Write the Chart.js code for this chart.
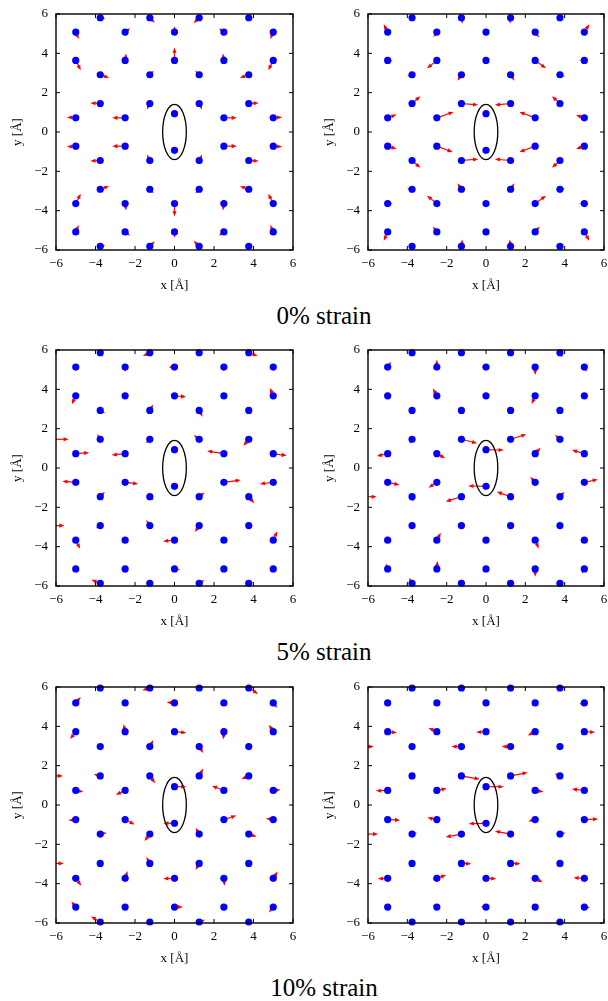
<!DOCTYPE html>
<html>
<head>
<meta charset="utf-8">
<script src="https://cdn.jsdelivr.net/npm/chart.js@4.4.0/dist/chart.umd.min.js"></script>
<style>
  body { margin: 0; background: #fff; width: 608px; height: 1001px; position: relative; overflow: hidden; }
  .panel { position: absolute; height: 300px; }
  .caption { position: absolute; left: 224px; width: 200px; height: 28px; line-height: 28px; text-align: center;
             font-family: 'Liberation Serif', serif; font-size: 25px; color: #000; }
</style>
</head>
<body>
<div class="panel" style="left:0;top:0;width:300px"><canvas id="p0L"></canvas></div>
<div class="panel" style="left:312px;top:0;width:296px"><canvas id="p0R"></canvas></div>
<div class="caption" style="top:302px">0% strain</div>
<div class="panel" style="left:0;top:336px;width:300px"><canvas id="p5L"></canvas></div>
<div class="panel" style="left:312px;top:336px;width:296px"><canvas id="p5R"></canvas></div>
<div class="caption" style="top:638px">5% strain</div>
<div class="panel" style="left:0;top:673px;width:300px"><canvas id="p10L"></canvas></div>
<div class="panel" style="left:312px;top:673px;width:296px"><canvas id="p10R"></canvas></div>
<div class="caption" style="top:974px">10% strain</div>

<script>
// atom x positions [Å], row by row from top; last 4 sit just outside the frame (only their arrows show)
var atomX = [
  -3.76, -1.25, 1.25, 3.76,
  -5, -2.5, 0, 2.5, 5,
  -5, -2.5, 0, 2.5, 5,
  -3.76, -1.25, 1.25, 3.76,
  -3.76, -1.25, 1.25, 3.76,
  -5, -2.5, 0, 2.5, 5,
  -5, -2.5, 0, 2.5, 5,
  -3.76, -1.25, 1.25, 3.76,
  -3.76, -1.25, 1.25, 3.76,
  -5, -2.5, 0, 2.5, 5,
  -5, -2.5, 0, 2.5, 5,
  -3.76, -1.25, 1.25, 3.76,
  -6.26, -6.26, -6.26, -6.26
];

// atom y positions for each strain
var atomY0 = [
  5.81, 5.81, 5.81, 5.81,
  5.08, 5.08, 5.08, 5.08, 5.08,
  3.64, 3.64, 3.64, 3.64, 3.64,
  2.91, 2.91, 2.91, 2.91,
  1.45, 1.45, 1.45, 1.45,
  0.72, 0.72, 0.93, 0.72, 0.72,
  -0.72, -0.72, -0.93, -0.72, -0.72,
  -1.45, -1.45, -1.45, -1.45,
  -2.91, -2.91, -2.91, -2.91,
  -3.64, -3.64, -3.64, -3.64, -3.64,
  -5.08, -5.08, -5.08, -5.08, -5.08,
  -5.81, -5.81, -5.81, -5.81,
  2.91, 1.45, -1.45, -2.91
];
var atomY5 = [
  5.86, 5.86, 5.86, 5.86,
  5.13, 5.13, 5.13, 5.13, 5.13,
  3.67, 3.67, 3.67, 3.67, 3.67,
  2.93, 2.93, 2.93, 2.93,
  1.46, 1.46, 1.46, 1.46,
  0.73, 0.73, 0.93, 0.73, 0.73,
  -0.73, -0.73, -0.93, -0.73, -0.73,
  -1.46, -1.46, -1.46, -1.46,
  -2.93, -2.93, -2.93, -2.93,
  -3.67, -3.67, -3.67, -3.67, -3.67,
  -5.13, -5.13, -5.13, -5.13, -5.13,
  -5.86, -5.86, -5.86, -5.86,
  2.93, 1.46, -1.46, -2.93
];
var atomY10 = [
  5.95, 5.95, 5.95, 5.95,
  5.19, 5.19, 5.19, 5.19, 5.19,
  3.73, 3.73, 3.73, 3.73, 3.73,
  2.97, 2.97, 2.97, 2.97,
  1.48, 1.48, 1.48, 1.48,
  0.74, 0.74, 0.93, 0.74, 0.74,
  -0.74, -0.74, -0.93, -0.74, -0.74,
  -1.48, -1.48, -1.48, -1.48,
  -2.97, -2.97, -2.97, -2.97,
  -3.73, -3.73, -3.73, -3.73, -3.73,
  -5.19, -5.19, -5.19, -5.19, -5.19,
  -5.95, -5.95, -5.95, -5.95,
  2.97, 1.48, -1.48, -2.97
];

// displacement arrows [dx, dy] per atom, one list per panel
var arrows0L = [
  [0.25,-0.05],[0.25,-0.25],[-0.28,-0.28],[0.15,-0.1],
  [0.15,-0.35],[0.25,0.2],[0,0.3],[-0.25,0.2],[-0.15,-0.35],
  [0.25,-0.5],[0.05,0.35],[0,0.65],[-0.05,0.35],[-0.25,-0.5],
  [0.45,-0.15],[0.2,0.2],[-0.2,0.2],[-0.45,-0.15],
  [-0.5,0.03],[-0.15,-0.3],[0.15,-0.3],[0.5,0.03],
  [-0.45,0.03],[-0.65,0],[0,0],[0.65,0],[0.45,0.03],
  [-0.45,-0.03],[-0.65,0],[0,0],[0.65,0],[0.45,-0.03],
  [-0.5,-0.03],[-0.15,0.3],[0.15,0.3],[0.5,-0.03],
  [0.45,0.15],[0.2,-0.2],[-0.2,-0.2],[-0.45,0.15],
  [0.25,0.5],[0.05,-0.35],[0,-0.65],[-0.05,-0.35],[-0.25,0.5],
  [0.15,0.35],[0.25,-0.2],[0,-0.3],[-0.25,-0.2],[-0.15,0.35],
  [0.25,0.05],[0.25,0.25],[-0.28,0.28],[0.15,0.1],
  [0,0],[0,0],[0,0],[0,0]
];
var arrows0R = [
  [0,0],[0.05,-0.3],[-0.03,-0.3],[0,0],
  [-0.2,0.4],[-0.17,-0.25],[0,0],[0.2,-0.27],[0.25,0.4],
  [0.25,0],[-0.5,-0.4],[0,0],[0.55,-0.4],[-0.25,0],
  [-0.25,-0.08],[-0.2,-0.3],[0.2,-0.3],[0.25,-0.08],
  [0.42,0.37],[0.85,-0.08],[-0.8,-0.08],[-0.4,0.37],
  [0.45,0.17],[0.85,0.3],[0,0],[-0.8,0.3],[-0.42,0.14],
  [0.45,-0.15],[0.8,-0.3],[0,0],[-0.8,-0.3],[-0.42,-0.14],
  [0.42,-0.37],[0.85,0.07],[-0.8,0.07],[-0.4,-0.37],
  [-0.25,0.03],[-0.2,0.3],[0.2,0.3],[0.25,0.03],
  [0.25,0],[-0.5,0.4],[0,0],[0.55,0.4],[-0.25,0],
  [-0.2,-0.45],[-0.2,0.27],[0,0],[0.22,0.28],[0.25,-0.45],
  [0,0],[0.05,0.35],[-0.05,0.35],[0,0],
  [0,0],[0,0],[0,0],[0,0]
];
var arrows5L = [
  [0.2,0.05],[-0.35,-0.17],[-0.2,0.15],[0.45,-0.17],
  [0,0],[0,-0.25],[-0.3,0],[0,0],[0,0],
  [-0.2,-0.43],[0,0],[0.58,-0.05],[0,0],[-0.17,0.4],
  [0.25,-0.15],[0.17,0.3],[0.17,-0.32],[0.15,0.1],
  [-0.15,0.27],[-0.2,-0.2],[-0.27,0.22],[-0.27,-0.33],
  [0.68,0.05],[-0.68,-0.07],[0,0],[-0.85,0.13],[0.68,-0.1],
  [-0.68,0.05],[0.66,-0.08],[0,0],[0.85,0.12],[-0.68,-0.08],
  [0.23,0.25],[0.2,-0.17],[0.27,0.22],[0.27,-0.33],
  [-0.22,-0.13],[-0.18,0.28],[-0.22,-0.33],[-0.15,0.15],
  [0.22,-0.43],[0,0],[-0.58,-0.05],[0,0],[0.2,0.45],
  [0,0],[0,-0.23],[0.28,-0.03],[0,0],[0,0],
  [-0.45,0.18],[0,0],[0.27,0.15],[-0.15,-0.1],
  [0,0],[0.9,0],[0,0],[0.68,0]
];
var arrows5R = [
  [0,0],[0,0],[0,0],[0.12,-0.23],
  [0.17,0.27],[0,0.38],[-0.23,0],[0,-0.4],[0.12,-0.23],
  [0,0.2],[-0.2,0.37],[0,0],[-0.18,-0.42],[0,0],
  [0,0],[0,0],[0,0],[0,0],
  [-0.12,-0.23],[0.8,-0.2],[0.8,0.25],[-0.25,0.23],
  [-0.55,-0.12],[0.42,-0.23],[0.9,-0.02],[0.28,0.3],[-0.63,0.18],
  [0.6,-0.13],[-0.42,-0.27],[-0.9,0.02],[-0.25,0.28],[0.68,0.15],
  [0.05,-0.25],[-0.8,-0.24],[-0.7,0.25],[0.23,0.25],
  [0,0],[0,0],[0,0],[0,0],
  [0,0.2],[0.2,0.38],[0,0],[0.18,-0.42],[0,0],
  [-0.1,0.27],[0.03,0.4],[0.2,0],[0,-0.4],[-0.12,-0.23],
  [-0.15,0.28],[0,0],[0,0],[0,0],
  [0,0],[0,0],[0.7,0],[0,0]
];
var arrows10L = [
  [0,0],[-0.38,-0.12],[0,0],[0.47,-0.3],
  [0.25,0.3],[0,0],[-0.4,0.03],[0,0],[0.2,-0.25],
  [-0.28,-0.38],[-0.08,0.38],[0.6,-0.06],[-0.03,-0.4],[-0.22,0.35],
  [0,0],[0.17,0.33],[0.2,-0.32],[0,0],
  [-0.33,0.08],[0.27,-0.37],[0.2,0.37],[-0.37,-0.17],
  [0.38,-0.07],[-0.47,-0.22],[0.6,0],[-0.6,0.23],[0.37,0.03],
  [-0.37,-0.05],[0.48,-0.25],[-0.57,0],[0.63,0.2],[-0.37,0.05],
  [0.33,0.07],[-0.27,-0.35],[-0.18,0.32],[0.4,-0.13],
  [-0.1,-0.1],[-0.17,0.32],[-0.18,-0.33],[-0.15,0.15],
  [0.28,-0.37],[0.12,0.38],[-0.57,-0.02],[0.03,-0.37],[0.22,0.35],
  [-0.22,0.28],[0,0],[0.42,0],[0,0],[-0.22,-0.27],
  [-0.47,0.28],[0,0],[0.3,0.12],[0,0],
  [0,0],[0.61,0],[0,0],[0.65,0]
];
var arrows10R = [
  [0,0],[0,0],[0,0],[0,0],
  [0,0],[0.2,0.07],[0,0],[0,0],[-0.25,-0.05],
  [0.47,-0.06],[-0.42,0.18],[-0.5,-0.03],[-0.37,-0.2],[0.55,-0.03],
  [0,0],[-0.5,0],[-0.45,0],[0,0],
  [0,0],[0.93,-0.17],[0.87,0.17],[-0.27,0.12],
  [-0.6,-0.02],[0.5,0.1],[0.9,0],[0.42,-0.07],[-0.63,0.07],
  [0.63,-0.03],[-0.48,0.1],[-0.88,-0.02],[-0.35,-0.08],[0.7,0.03],
  [0.25,0.07],[-0.8,-0.15],[-0.8,0.15],[0.28,0.07],
  [0,0],[0.5,-0.02],[0.5,-0.02],[0,0],
  [-0.5,-0.02],[0.47,0.17],[0.52,-0.02],[0.38,-0.2],[-0.55,0.03],
  [0.2,0],[-0.2,0.1],[-0.27,0.02],[0,0],[0.28,-0.03],
  [0,0],[0,0],[0,0],[0,0],
  [0.55,0],[0,0],[0.77,0],[0,0]
];

// vacancy ellipse half-axes [Å]
var ellipseRx = 0.6;
var ellipseRy = 1.4;

var serif = "'Liberation Serif', 'Times New Roman', serif";

function tickText(v) {
        return v < 0 ? '\u2212' + Math.abs(v) : '' + v;
}

function drawArrow(ctx, x1, y1, x2, y2) {
        var ang = Math.atan2(y2 - y1, x2 - x1);
        var len = Math.hypot(x2 - x1, y2 - y1);
        var head = Math.min(5.5, len * 0.7);
        ctx.beginPath();
        ctx.moveTo(x1, y1);
        ctx.lineTo(x2 - Math.cos(ang) * head * 0.7, y2 - Math.sin(ang) * head * 0.7);
        ctx.stroke();
        ctx.beginPath();
        ctx.moveTo(x2, y2);
        ctx.lineTo(x2 - head * Math.cos(ang - 0.38), y2 - head * Math.sin(ang - 0.38));
        ctx.lineTo(x2 - head * Math.cos(ang + 0.38), y2 - head * Math.sin(ang + 0.38));
        ctx.closePath();
        ctx.fill();
}

// red displacement arrows, drawn under the atoms
var quiverPlugin = {
        id: 'quiver',
        beforeDatasetsDraw: function (chart, args, opts) {
                var ctx = chart.ctx, a = chart.chartArea;
                var xs = chart.scales.x, ys = chart.scales.y;
                ctx.save();
                ctx.beginPath();
                ctx.rect(a.left, a.top, a.right - a.left, a.bottom - a.top);
                ctx.clip();
                ctx.strokeStyle = '#ff0000';
                ctx.fillStyle = '#ff0000';
                ctx.lineWidth = 1.2;
                for (var i = 0; i < atomX.length; i++) {
                        var d = opts.arrows[i];
                        if (d[0] === 0 && d[1] === 0) continue;
                        drawArrow(ctx,
                                xs.getPixelForValue(atomX[i]), ys.getPixelForValue(opts.ys[i]),
                                xs.getPixelForValue(atomX[i] + d[0]), ys.getPixelForValue(opts.ys[i] + d[1]));
                }
                ctx.restore();
        }
};

// black frame with inward ticks on all sides, and the ellipse
var framePlugin = {
        id: 'frame',
        afterDatasetsDraw: function (chart) {
                var ctx = chart.ctx, a = chart.chartArea;
                var xs = chart.scales.x, ys = chart.scales.y;
                ctx.save();
                ctx.strokeStyle = '#000';
                ctx.lineWidth = 1.3;
                var cx = xs.getPixelForValue(0), cy = ys.getPixelForValue(0);
                ctx.beginPath();
                ctx.ellipse(cx, cy, xs.getPixelForValue(ellipseRx) - cx, cy - ys.getPixelForValue(ellipseRy), 0, 0, Math.PI * 2);
                ctx.stroke();
                ctx.lineWidth = 1.4;
                ctx.strokeRect(a.left, a.top, a.right - a.left, a.bottom - a.top);
                ctx.lineWidth = 1;
                var tl = 4;
                ctx.beginPath();
                xs.ticks.forEach(function (t) {
                        var px = xs.getPixelForValue(t.value);
                        ctx.moveTo(px, a.bottom); ctx.lineTo(px, a.bottom - tl);
                        ctx.moveTo(px, a.top); ctx.lineTo(px, a.top + tl);
                });
                ys.ticks.forEach(function (t) {
                        var py = ys.getPixelForValue(t.value);
                        ctx.moveTo(a.left, py); ctx.lineTo(a.left + tl, py);
                        ctx.moveTo(a.right, py); ctx.lineTo(a.right - tl, py);
                });
                ctx.stroke();
                ctx.restore();
        }
};

function makePanel(id, atomY, arrows, rightPad) {
        var points = [];
        for (var i = 0; i < atomX.length; i++) {
                if (Math.abs(atomX[i]) <= 6) points.push({ x: atomX[i], y: atomY[i] });
        }
        var tickFont = { family: serif, size: 13 };
        var ctx = document.getElementById(id).getContext('2d');
        return new Chart(ctx, {
                type: 'scatter',
                data: {
                        datasets: [{
                                data: points,
                                pointRadius: 3.6,
                                pointBackgroundColor: '#0000ff',
                                pointBorderWidth: 0,
                                clip: false
                        }]
                },
                options: {
                        responsive: true,
                        maintainAspectRatio: false,
                        animation: false,
                        layout: { padding: { left: 0, top: 14, right: rightPad, bottom: 0 } },
                        plugins: {
                                legend: { display: false },
                                tooltip: { enabled: false },
                                quiver: { ys: atomY, arrows: arrows }
                        },
                        scales: {
                                x: {
                                        type: 'linear', min: -6, max: 6,
                                        grid: { display: false, drawTicks: false },
                                        border: { display: false },
                                        ticks: { stepSize: 2, padding: 6, color: '#000', font: tickFont, callback: tickText, maxRotation: 0 },
                                        title: { display: true, text: 'x [Å]', color: '#000', font: tickFont, padding: { top: 0, bottom: 7 } },
                                        afterFit: function (s) { s.height = 50; s.paddingLeft = 0; s.paddingRight = 0; }
                                },
                                y: {
                                        type: 'linear', min: -6, max: 6,
                                        grid: { display: false, drawTicks: false },
                                        border: { display: false },
                                        ticks: { stepSize: 2, padding: 8, color: '#000', font: tickFont, callback: tickText },
                                        title: { display: true, text: 'y [Å]', color: '#000', font: tickFont, padding: { top: 10, bottom: 0 } },
                                        afterFit: function (s) { s.width = 56; s.paddingTop = 0; s.paddingBottom = 0; }
                                }
                        }
                },
                plugins: [quiverPlugin, framePlugin]
        });
}

makePanel('p0L', atomY0, arrows0L, 7);
makePanel('p0R', atomY0, arrows0R, 4);
makePanel('p5L', atomY5, arrows5L, 7);
makePanel('p5R', atomY5, arrows5R, 4);
makePanel('p10L', atomY10, arrows10L, 7);
makePanel('p10R', atomY10, arrows10R, 4);
</script>
</body>
</html>
